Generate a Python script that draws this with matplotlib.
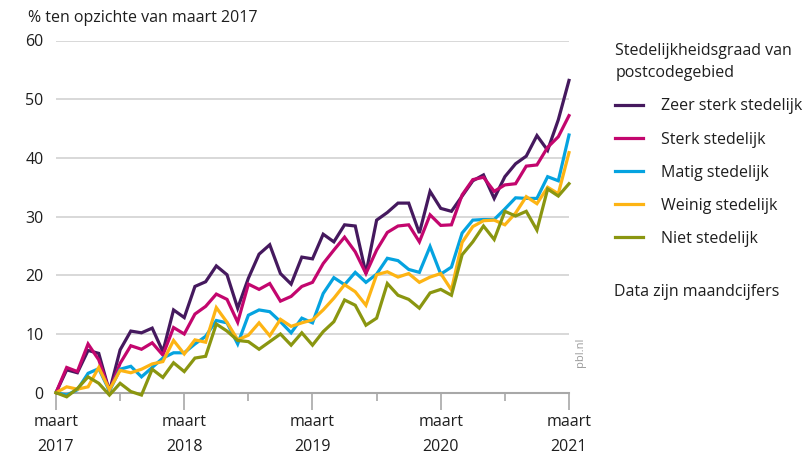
import matplotlib as mpl
mpl.use("Agg")
import matplotlib.pyplot as plt
import numpy as np

# maandcijfers, % ten opzichte van maart 2017 (maart 2017 .. maart 2021)
zeer_sterk = [0, 3.9, 3.4, 7.2, 6.7, 0.2, 7.3, 10.5, 10.2, 11.0,
              7.0, 14.1, 12.8, 18.1, 18.9, 21.6, 20.1, 14.4, 19.5, 23.6,
              25.2, 20.3, 18.5, 23.1, 22.8, 27.0, 25.7, 28.6, 28.4, 20.3,
              29.4, 30.7, 32.3, 32.3, 27.2, 34.3, 31.4, 30.9, 33.5, 36.1,
              37.1, 33.1, 36.8, 39.0, 40.3, 43.8, 41.3, 46.5, 53.2]
sterk = [0, 4.3, 3.6, 8.3, 5.6, 0.3, 5.0, 8.0, 7.4, 8.5,
         6.4, 11.1, 10.0, 13.4, 14.7, 16.8, 15.9, 12.0, 18.5, 17.6,
         18.6, 15.6, 16.4, 18.1, 18.8, 22.0, 24.3, 26.5, 24.0, 20.3,
         24.3, 27.3, 28.4, 28.6, 25.7, 30.3, 28.5, 28.6, 33.7, 36.3,
         36.7, 34.3, 35.4, 35.6, 38.6, 38.8, 41.8, 43.6, 47.2]
matig = [0, -0.4, 0.5, 3.3, 4.1, 0.3, 4.0, 4.5, 2.7, 4.3,
         5.9, 6.8, 6.8, 8.3, 9.6, 12.3, 11.9, 8.3, 13.2, 14.1,
         13.8, 12.1, 10.2, 12.7, 11.9, 16.9, 19.6, 18.4, 20.5, 18.8,
         20.2, 22.9, 22.5, 21.0, 20.5, 24.9, 20.2, 21.4, 27.2, 29.4,
         29.5, 29.5, 31.3, 33.2, 33.1, 33.1, 36.8, 36.1, 43.9]
weinig = [0, 1.0, 0.6, 1.0, 4.3, 0.5, 3.8, 3.4, 4.0, 4.9,
          5.3, 8.9, 6.6, 9.0, 8.6, 14.5, 12.0, 9.0, 9.8, 11.9,
          9.7, 12.5, 11.3, 11.9, 12.4, 14.1, 16.1, 18.4, 17.2, 14.9,
          20.1, 20.6, 19.7, 20.3, 18.8, 19.7, 20.3, 17.5, 25.6, 28.3,
          29.3, 29.4, 28.6, 30.6, 33.4, 32.2, 35.0, 33.9, 40.9]
niet = [0, -0.7, 0.7, 2.7, 1.6, -0.4, 1.6, 0.2, -0.4, 4.0,
        2.6, 5.1, 3.6, 5.9, 6.2, 11.7, 10.5, 8.9, 8.7, 7.4,
        8.7, 10.0, 8.1, 10.2, 8.1, 10.4, 12.1, 15.8, 14.9, 11.5,
        12.7, 18.6, 16.6, 15.9, 14.4, 17.0, 17.6, 16.6, 23.5, 25.7,
        28.4, 26.1, 30.9, 30.1, 30.9, 27.7, 34.7, 33.5, 35.6]

series_names = ["Zeer sterk stedelijk", "Sterk stedelijk", "Matig stedelijk",
                "Weinig stedelijk", "Niet stedelijk"]
series_colors = ["#45195e", "#c3066e", "#05a3e0", "#fdb414", "#8a9610"]
year_labels = ["maart\n2017", "maart\n2018", "maart\n2019", "maart\n2020", "maart\n2021"]

plt.rcParams["font.family"] = ["Open Sans", "DejaVu Sans"]
text_color = "#1e1e1e"
fs = 11.5

W, H = 804, 453
fig = plt.figure(figsize=(W / 100, H / 100), dpi=100)
x0, x1, y0, y1 = 56, 569, 392.7, 40.5
ax = fig.add_axes([x0 / W, 1 - y0 / H, (x1 - x0) / W, (y0 - y1) / H])

months = np.arange(len(zeer_sterk))
data = [zeer_sterk, sterk, matig, weinig, niet]
for values, name, color in zip(data, series_names, series_colors):
    ax.plot(months, values, color=color, lw=2.3, label=name,
            clip_on=False, zorder=3, solid_joinstyle="miter")

ax.set_xlim(0, 48)
ax.set_ylim(0, 60)
ax.set_yticks(np.arange(0, 61, 10))
ax.grid(axis="y", color="#d2d2d2", lw=1.2)
ax.set_axisbelow(True)
for side in ("top", "right", "left"):
    ax.spines[side].set_visible(False)
ax.spines["bottom"].set_color("#a8a8a8")
ax.spines["bottom"].set_linewidth(1.5)
ax.tick_params(axis="y", length=0, pad=9, labelsize=fs, labelcolor=text_color)

ax.set_xticks([0, 12, 24, 36, 48])
ax.set_xticklabels(year_labels, linespacing=1.75)
ax.set_xticks([6, 18, 30, 42], minor=True)
ax.tick_params(axis="x", which="major", length=12, width=1.2, color="#a8a8a8",
               pad=3, labelsize=fs, labelcolor=text_color)
ax.tick_params(axis="x", which="minor", length=6, width=1.2, color="#a8a8a8")

fig.text(28 / W, 1 - 18 / H, "% ten opzichte van maart 2017", fontsize=fs,
         color=text_color, va="center", ha="left")

leg = ax.legend(loc="upper left", bbox_to_anchor=(613 / W, 1 - 41 / H),
                bbox_transform=fig.transFigure, frameon=False, fontsize=fs,
                title="Stedelijkheidsgraad van\npostcodegebied", title_fontsize=fs,
                alignment="left", handlelength=1.75, handletextpad=1.1,
                labelspacing=1.07, borderaxespad=0, borderpad=0.15)
for t in leg.get_texts():
    t.set_color(text_color)
leg.get_title().set_color(text_color)
leg.get_title().set_linespacing(1.5)

fig.text(614 / W, 1 - 292 / H, "Data zijn maandcijfers", fontsize=fs,
         color=text_color, va="center", ha="left")
fig.text(581 / W, 1 - 352 / H, "pbl.nl", fontsize=8, color="#9a9a9a",
         rotation=90, va="center", ha="center")

fig.savefig("out.png", dpi=100)
